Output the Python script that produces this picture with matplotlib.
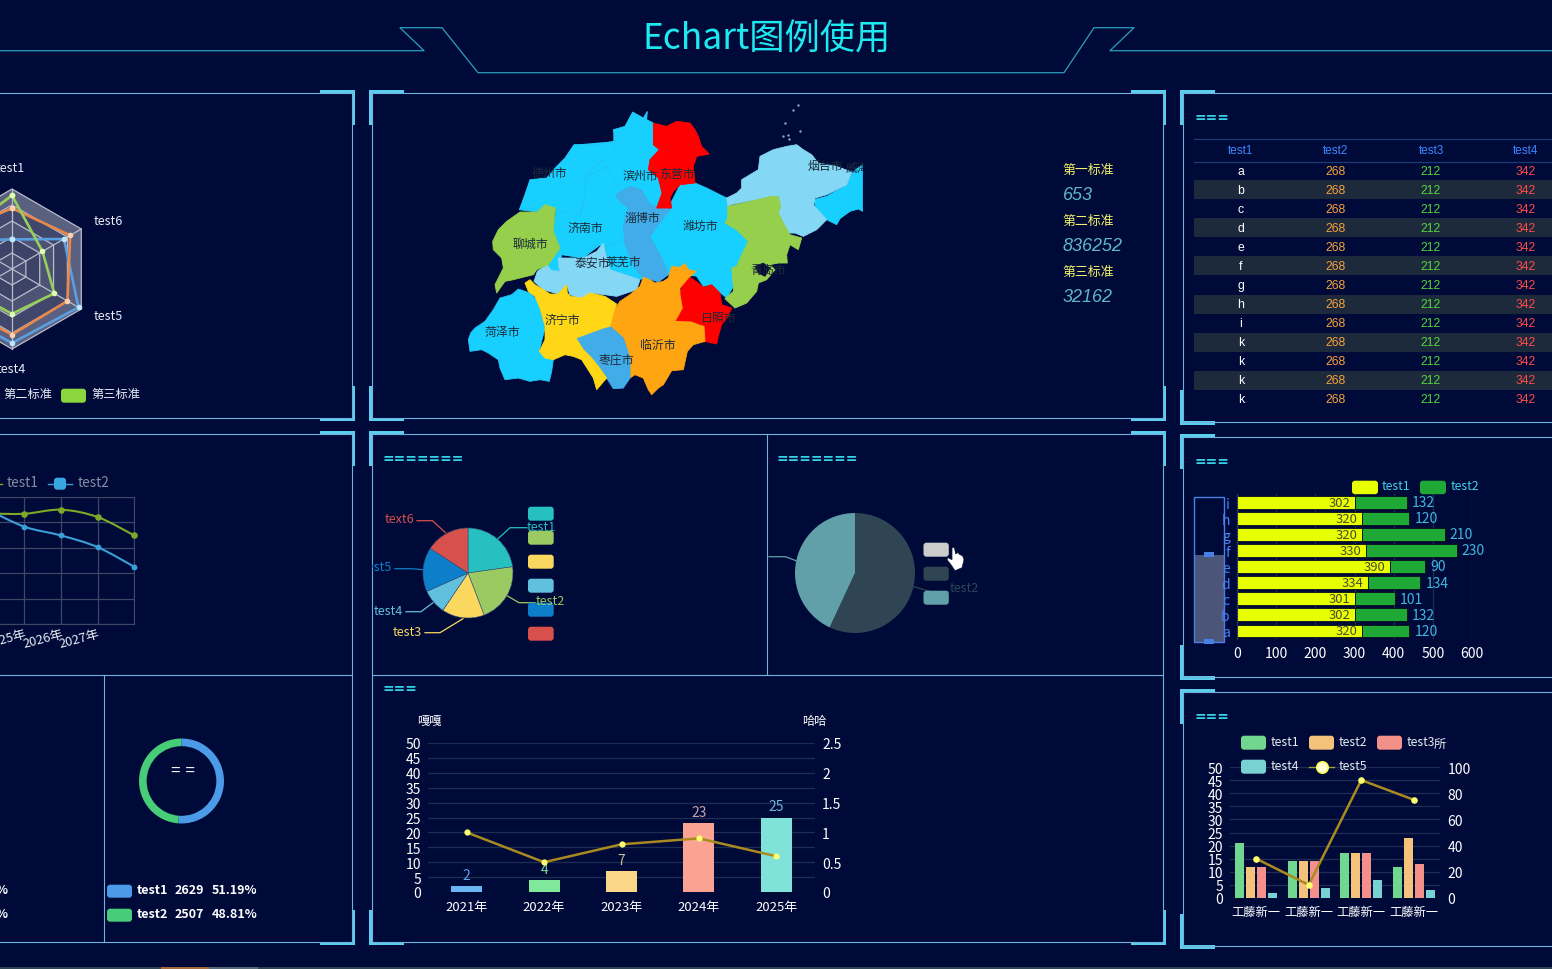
import numpy as np
import matplotlib
matplotlib.use('Agg')
import matplotlib.pyplot as plt
from matplotlib.patches import Rectangle, FancyBboxPatch, Polygon, PathPatch
from matplotlib.path import Path

plt.rcParams['font.family'] = ['Noto Sans CJK SC', 'DejaVu Sans']

W, H = 1552, 970
BG = '#000a38'
LINE = '#6fb2e2'
CORNER = '#5ccdec'
TITLE_C = '#35d3e8'
GRID = '#1e2d52'

# radar
radar_names = ['test1', 'test2', 'test3', 'test4', 'test5', 'test6']
radar_orange = [0.76, 0.88, 0.86, 0.82, 0.80, 0.84]
radar_blue = [0.37, 0.71, 0.96, 0.925, 0.96, 0.75]
radar_green = [0.92, 0.80, 0.58, 0.56, 0.61, 0.44]

# smooth lines
line_years = ['2024年', '2025年', '2026年', '2027年', '']
line_test1 = [87, 86.8, 90, 84.2, 69.7]
line_test2 = [90, 76.6, 69.7, 60.5, 45]

# donut
donut_names = ['test1', 'test2']
donut_values = [2629, 2507]

# map, outlines in map units
map_base = [(208, 345), (240, 255), (290, 250), (345, 190), (372, 150), (490, 140), (490, 105), (525, 95), (548, 52),
            (580, 70), (592, 50), (590, 75), (610, 85), (628, 165), (636, 295), (660, 345), (735, 265), (830, 310),
            (895, 440), (850, 575), (830, 610), (740, 545), (650, 540), (570, 555), (480, 525), (460, 445), (400, 490),
            (335, 480), (325, 530), (290, 510), (330, 460), (316, 340)]
map_regions = {
    '德州市': [(208, 345), (225, 300), (240, 255), (290, 250), (320, 215), (345, 190), (372, 150), (440, 150), (490, 140),
            (500, 150), (490, 170), (465, 190), (425, 225), (408, 250), (405, 300), (392, 345), (395, 370), (320, 350),
            (316, 340), (285, 330), (262, 352)],
    '滨州市': [(500, 150), (490, 105), (525, 95), (548, 52), (580, 70), (592, 50), (590, 75), (610, 85), (610, 150),
            (628, 165), (600, 195), (595, 225), (625, 250), (636, 295), (620, 340), (570, 300), (540, 275),
            (500, 295), (470, 215), (408, 250), (425, 225), (465, 190), (490, 170)],
    '济南市': [(408, 250), (470, 215), (510, 290), (497, 300), (510, 320), (535, 340), (520, 390), (525, 430),
            (470, 455), (440, 450), (400, 490), (335, 480), (325, 530), (300, 530), (290, 510), (330, 460),
            (310, 410), (318, 345), (392, 362), (405, 300)],
    '莱芜市': [(470, 455), (525, 430), (555, 520), (575, 545), (560, 555), (540, 545), (480, 525), (470, 490)],
    '潍坊市': [(735, 265), (770, 280), (800, 295), (830, 310), (833, 370), (822, 385), (860, 405), (895, 440), (875, 480),
            (860, 515), (845, 520), (850, 575), (830, 610), (810, 590), (785, 570), (760, 575), (740, 545),
            (710, 520), (695, 505), (655, 530), (635, 490), (600, 425), (625, 390), (660, 345), (665, 320),
            (690, 270)],
    '菏泽市': [(55, 735), (62, 715), (75, 700), (105, 680), (130, 645), (150, 610), (185, 600), (205, 583), (240, 595),
            (265, 620), (285, 700), (275, 740), (268, 770), (310, 795), (305, 830), (298, 860), (270, 855),
            (240, 860), (205, 850), (165, 855), (150, 820), (145, 795), (115, 775), (95, 765), (60, 770)],
    '威海市': [(1090, 315), (1130, 305), (1190, 270), (1207, 232), (1238, 210), (1238, 350), (1225, 343), (1200, 350),
            (1170, 372), (1160, 390), (1130, 375), (1100, 345)],
    '淄博市': [(497, 300), (540, 275), (575, 285), (600, 330), (660, 345), (625, 390), (600, 425), (635, 490),
            (655, 540), (625, 562), (575, 545), (555, 520), (525, 450), (520, 390), (535, 340), (510, 320)],
    '泰安市': [(252, 560), (262, 530), (290, 510), (305, 528), (328, 530), (325, 490), (400, 490), (440, 470), (460, 445),
            (470, 490), (480, 525), (540, 545), (570, 555), (560, 585), (500, 605), (465, 600), (420, 595),
            (400, 615), (360, 600), (350, 570), (325, 598), (280, 585)],
    '聊城市': [(128, 440), (145, 405), (170, 380), (210, 352), (262, 352), (285, 330), (316, 340), (310, 410), (330, 460),
            (295, 510), (260, 525), (250, 540), (190, 555), (165, 560), (140, 595), (135, 570), (160, 520), (155, 490),
            (130, 465)],
    '东营市': [(610, 85), (650, 95), (680, 80), (720, 85), (735, 105), (745, 125), (755, 155), (778, 178), (740, 185),
            (730, 215), (735, 265), (690, 270), (670, 290), (660, 310), (665, 340), (620, 340), (636, 295), (625, 250),
            (595, 225), (600, 195), (628, 165), (610, 150)],
    '烟台市': [(830, 310), (860, 295), (875, 280), (875, 255), (925, 225), (930, 185), (970, 165), (1010, 155), (1040, 150),
            (1060, 165), (1085, 180), (1105, 205), (1160, 215), (1205, 232), (1190, 270), (1130, 300), (1095, 310),
            (1090, 330), (1130, 375), (1100, 405), (1060, 425), (1035, 415), (1015, 415), (1000, 385), (985, 355),
            (992, 335), (985, 305), (965, 305), (935, 312), (833, 332)],
    '青岛市': [(833, 335), (880, 325), (935, 312), (965, 305), (985, 305), (992, 335), (985, 355), (1000, 385), (1020, 420),
            (1055, 430), (1045, 465), (1020, 450), (1010, 480), (1012, 505), (985, 505), (960, 510), (975, 525),
            (950, 555), (925, 565), (920, 590), (890, 625), (855, 640), (825, 612), (850, 590), (850, 575), (845, 520),
            (860, 515), (875, 480), (895, 440), (860, 405), (825, 385), (833, 370)],
    '日照市': [(690, 595), (700, 565), (720, 548), (745, 565), (760, 578), (785, 570), (810, 595), (815, 630), (845, 640),
            (835, 665), (815, 690), (805, 725), (800, 748), (765, 740), (762, 695), (725, 682), (672, 680), (697, 640)],
    '临沂市': [(480, 695), (490, 650), (510, 620), (540, 600), (570, 575), (580, 548), (600, 555), (615, 565), (640, 560),
            (655, 550), (665, 515), (690, 518), (705, 507), (715, 525), (738, 530), (715, 550), (690, 580), (690, 600),
            (697, 640), (675, 680), (725, 682), (745, 690), (762, 695), (765, 740), (730, 750), (712, 770), (700, 825),
            (665, 828), (640, 870), (625, 880), (605, 900), (595, 885), (580, 850), (555, 840), (540, 850), (540, 790),
            (520, 730)],
    '枣庄市': [(378, 730), (460, 700), (480, 695), (520, 730), (540, 790), (540, 850), (520, 880), (490, 882),
            (470, 850), (445, 815), (425, 790), (400, 765)],
    '济宁市': [(225, 565), (240, 555), (255, 570), (280, 585), (300, 598), (325, 598), (350, 570), (352, 595), (362, 605),
            (395, 610), (420, 595), (465, 605), (500, 628), (490, 655), (480, 695), (460, 700), (378, 730), (400, 765),
            (425, 790), (445, 815), (470, 850), (440, 885), (430, 850), (395, 795), (370, 785), (345, 780), (310, 795),
            (285, 790), (268, 770), (285, 735), (285, 695), (270, 640), (255, 605), (235, 590)],
}
map_colors = {'德州市': '#18d0ff', '滨州市': '#18d0ff', '济南市': '#18d0ff', '莱芜市': '#18d0ff', '潍坊市': '#18d0ff',
              '菏泽市': '#18d0ff', '威海市': '#18d0ff', '淄博市': '#42ace8', '泰安市': '#85d8f5', '聊城市': '#96cf4c',
              '东营市': '#ff0000', '烟台市': '#85d8f5', '青岛市': '#96cf4c', '日照市': '#ff0000', '临沂市': '#ffa511',
              '枣庄市': '#42ace8', '济宁市': '#ffd716'}
map_labels = {'德州市': (297, 232), '滨州市': (570, 243), '东营市': (680, 235), '济南市': (405, 397), '淄博市': (577, 368),
              '潍坊市': (750, 392), '聊城市': (240, 445), '泰安市': (428, 503), '莱芜市': (520, 500), '青岛市': (955, 525),
              '烟台市': (1125, 212), '威海市': (1240, 218), '济宁市': (338, 673), '菏泽市': (157, 710), '临沂市': (623, 748),
              '枣庄市': (498, 795), '日照市': (807, 668)}
map_bay = [(915, 515), (940, 505), (960, 520), (945, 545), (925, 535)]
map_islands_x = [1045, 1030, 1005, 1050, 1000, 1015, 1018]
map_islands_y = [32, 45, 85, 108, 125, 122, 132]
standard_names = ['第一标准', '第二标准', '第三标准']
standard_values = ['653', '836252', '32162']

# table
table_cols = ['test1', 'test2', 'test3', 'test4']
table_keys = ['a', 'b', 'c', 'd', 'e', 'f', 'g', 'h', 'i', 'k', 'k', 'k', 'k']
table_test2 = [268] * 13
table_test3 = [212] * 13
table_test4 = [342] * 13

# pies
pie1_names = ['test1', 'test2', 'test3', 'test4', 'test5', 'text6']
pie1_values = [82, 77, 55, 32, 57, 57]
pie1_colors = ['#26c0c0', '#9bca63', '#fad860', '#60c0dd', '#0d7fca', '#d7504b']
pie2_values = [205, 155]
pie2_colors = ['#2f4554', '#61a0a8']

# year bars
year_names = ['2021年', '2022年', '2023年', '2024年', '2025年']
year_bars = [2, 4, 7, 23, 25]
year_line = [1, 0.5, 0.8, 0.9, 0.6]
year_colors = ['#6cb5f5', '#80e89a', '#fad788', '#fba393', '#80e2d8']
year_label_colors = ['#5f9fe0', '#7fd79a', '#cbbd90', '#c9a0a8', '#6fb6d8']

# horizontal stack
stack_names = ['a', 'b', 'c', 'd', 'e', 'f', 'g', 'h', 'i']
stack_test1 = [320, 302, 301, 334, 390, 330, 320, 320, 302]
stack_test2 = [120, 132, 101, 134, 90, 230, 210, 120, 132]

# grouped bars
group_names = ['工藤新一', '工藤新一', '工藤新一', '工藤新一']
group_test1 = [21, 14, 17, 12]
group_test2 = [12, 14, 17, 23]
group_test3 = [12, 14, 17, 13]
group_test4 = [2, 4, 7, 3]
group_test5 = [30, 10, 90, 75]
group_colors = ['#71d68f', '#f4c27a', '#f4908a', '#78d2d2']

fig = plt.figure(figsize=(W / 100, H / 100), dpi=100, facecolor=BG)


def px_axes(x0, y0, x1, y1, z=1):
    ax = fig.add_axes([x0 / W, 1 - y1 / H, (x1 - x0) / W, (y1 - y0) / H], zorder=z)
    ax.patch.set_visible(False)
    return ax


def flat_canvas(z):
    ax = px_axes(0, 0, W, H, z)
    # canvas items sat a pixel high against the reference
    ax.set_xlim(0, W)
    ax.set_ylim(H - 0.7, -0.7)
    ax.axis('off')
    return ax


back = flat_canvas(0)
top = flat_canvas(5)


def frame(x0, y0, x1, y1):
    back.plot([x0, x1, x1, x0, x0], [y0, y0, y1, y1, y0], color=LINE, lw=0.8)


def corner(x, y, sx, sy):
    # x, y is the outer point of the bracket
    w, t = 35, 3.4
    back.add_patch(Rectangle((min(x, x + sx * w), min(y, y + sy * t)), w, t, color=CORNER, lw=0))
    back.add_patch(Rectangle((min(x, x + sx * t), min(y, y + sy * w)), t, w, color=CORNER, lw=0))


def swatch(x0, y0, x1, y1, color, canvas=None):
    canvas = canvas or top
    canvas.add_patch(FancyBboxPatch((x0 + 3, y0 + 3), x1 - x0 - 6, y1 - y0 - 6, boxstyle='round,pad=3',
                                    fc=color, ec='none'))


def smooth(xs, ys):
    # catmull-rom through the data points, as bezier segments
    pts = np.column_stack([xs, ys]).astype(float)
    verts = [pts[0]]
    codes = [Path.MOVETO]
    for i in range(len(pts) - 1):
        p0 = pts[max(i - 1, 0)]
        p1 = pts[i]
        p2 = pts[i + 1]
        p3 = pts[min(i + 2, len(pts) - 1)]
        verts += [p1 + (p2 - p0) / 6, p2 - (p3 - p1) / 6, p2]
        codes += [Path.CURVE4] * 3
    return Path(verts, codes)


def baseline_ticks(ax):
    for label in ax.get_yticklabels():
        label.set_verticalalignment('center_baseline')


# header
back.plot([-5, 424, 400, 442, 478, 1064, 1094, 1134, 1110, 1560],
          [51, 51, 28, 28, 73, 73, 28, 28, 51, 51], color='#2a9fc0', lw=0.9)
back.text(767, 39, 'Echart图例使用', color='#1ee8f0', fontsize=25.4, ha='center', va='center')

# bottom strip
back.add_patch(Rectangle((0, 967), W, 3, color='#2d4552', lw=0))
back.add_patch(Rectangle((161, 967), 48, 3, color='#a5683a', lw=0))
back.add_patch(Rectangle((209, 967), 49, 3, color='#55687a', lw=0))

# frames
frame(-10, 93, 352, 418)
frame(-10, 434, 352, 942)
frame(372, 93, 1163, 418)
frame(372, 434, 1163, 942)
frame(1183, 93, 1565, 422)
frame(1183, 437, 1565, 677)
frame(1183, 692, 1565, 946)
back.plot([-10, 352], [675, 675], color=LINE, lw=0.8)
back.plot([103.5, 103.5], [675, 942], color=LINE, lw=0.8)
back.plot([372, 1163], [675, 675], color=LINE, lw=0.8)
back.plot([767, 767], [434, 675], color=LINE, lw=0.8)

for y0, y1 in [(90, 421.5), (431, 945.5)]:
    corner(355, y0, -1, 1)
    corner(355, y1, -1, -1)
    corner(369, y0, 1, 1)
    corner(369, y1, 1, -1)
    corner(1166, y0, -1, 1)
    corner(1166, y1, -1, -1)
for y0, y1 in [(90, 425), (434, 680), (689, 949)]:
    corner(1180, y0, 1, 1)
    corner(1180, y1, 1, -1)

# section titles
for x, y, s in [(1194, 117, '==='), (383, 458, '======='), (777, 458, '======='), (383, 688, '==='),
                (1194, 461, '==='), (1194, 716, '===')]:
    back.text(x, y, s, color=TITLE_C, fontsize=9.9, ha='left', va='center', family='DejaVu Sans',
              fontweight='bold')

# radar
ax = px_axes(-88, 170, 112, 370)
ax.set_xlim(-1.25, 1.25)
ax.set_ylim(-1.25, 1.25)
ax.axis('off')
ang = np.deg2rad([0, 300, 240, 180, 120, 60])
band_colors = ['#5a6080', '#40476a', '#4c5375', '#3c4367', '#464d70']
for k, c in zip([1.0, 0.8, 0.6, 0.4, 0.2], band_colors):
    ax.add_patch(Polygon(np.column_stack([k * np.sin(ang), k * np.cos(ang)]), fc=c, ec='#b8bccb', lw=0.9))
for a in ang:
    ax.plot([0, np.sin(a)], [0, np.cos(a)], color='#b8bccb', lw=0.9)
for vals, c, mc in [(radar_blue, '#5a9fe0', '#bfe6ff'), (radar_orange, '#e8884a', '#ffd0b0'),
                    (radar_green, '#96d05a', '#e0ffb0')]:
    v = np.array(vals + vals[:1])
    a = np.append(ang, ang[0])
    ax.plot(v * np.sin(a), v * np.cos(a), color=c, lw=1.9)
    ax.scatter(v * np.sin(a), v * np.cos(a), s=9, color=mc, zorder=3)
for name, x, y, ha in [('test1', 25, 168, 'right'), ('test6', 94, 221, 'left'), ('test5', 94, 316, 'left'),
                       ('test4', 26, 369, 'right')]:
    back.text(x, y, name, color='#e8ecf5', fontsize=9, ha=ha, va='center')
back.text(3, 394, '第二标准', color='#e8ecf5', fontsize=8.8, va='center')
swatch(61, 389, 86, 403, '#8ad63c')
back.text(91, 394, '第三标准', color='#e8ecf5', fontsize=8.8, va='center')

# smooth line chart
ax = px_axes(-12.2, 498, 134.3, 625)
ax.set_xlim(0, 4)
ax.set_ylim(0, 100)
ax.set_xticks(range(5))
ax.set_yticks(range(0, 101, 20))
ax.grid(color='#3d4866', lw=0.9)
ax.set_axisbelow(True)
for s in ax.spines.values():
    s.set_color('#3d4866')
ax.tick_params(length=0, labelleft=False, pad=2)
ax.set_xticklabels(line_years, rotation=15, ha='right', va='top', rotation_mode='anchor',
                   color='#e8ecf5', fontsize=9.2)
for vals, c, ms in [(line_test1, '#7fa828', 14), (line_test2, '#3a9fd8', 10)]:
    ax.add_patch(PathPatch(smooth(range(5), vals), fc='none', ec=c, lw=1.5, clip_on=False))
    ax.scatter(range(5), vals, s=ms, color=c, zorder=3, clip_on=False)
back.plot([-2, 2], [484, 484], color='#7fa828', lw=1)
back.text(7, 482, 'test1', color='#878da3', fontsize=9.8, va='center')
back.plot([48, 72], [484, 484], color='#3a9fd8', lw=1)
swatch(54, 478, 66, 490, '#3aa6e0')
back.text(78, 482, 'test2', color='#878da3', fontsize=9.8, va='center')

# donut
ax = px_axes(139, 739.5, 224, 824.5)
ax.pie(donut_values, colors=['#4c9be8', '#47cc78'], startangle=90, counterclock=False, radius=1,
       wedgeprops={'width': 0.18, 'lw': 0})
ax.set_xlim(-1, 1)
ax.set_ylim(-1, 1)
top.text(183.5, 769.5, '= =', color='white', fontsize=12, ha='center', va='center', family='Liberation Sans')
for name, val, y, c in zip(donut_names, donut_values, [891, 915], ['#4c9be8', '#47cc78']):
    swatch(107, y - 6, 132, y + 7, c)
    pct = val / sum(donut_values) * 100
    top.text(137, y - 1, name, color='white', fontsize=9, fontweight='bold', va='center')
    top.text(175, y - 1, str(val), color='white', fontsize=9, fontweight='bold', va='center')
    top.text(212, y - 1, '%.2f%%' % pct, color='white', fontsize=9, fontweight='bold', va='center')
    top.text(8, y - 1, '%', color='white', fontsize=9, fontweight='bold', va='center', ha='right')

# map
ax = px_axes(450, 95.7, 862.67, 405.7)
ax.set_xlim(0, 1238)
ax.set_ylim(930, 0)
ax.axis('off')
ax.add_patch(Polygon(map_base, fc='#18d0ff', ec='none'))
for name, pts in map_regions.items():
    c = map_colors[name]
    edge = '#22c4f2' if c == '#18d0ff' else c
    ax.add_patch(Polygon(pts, fc=c, ec=edge, lw=0.6))
ax.add_patch(Polygon(map_bay, fc=BG, ec=BG, lw=0.5))
ax.scatter(map_islands_x, map_islands_y, s=3, color='#8aa8c8', lw=0)
for name, (x, y) in map_labels.items():
    ax.text(x, y, name, color='#1d2b3a', fontsize=8.6, ha='center', va='center', clip_on=True)
for name, val, y in zip(standard_names, standard_values, [170, 221, 272]):
    back.text(1062, y, name, color='#f3f06a', fontsize=9.3, va='center')
    back.text(1063, y + 25, val, color='#5fb7c5', fontsize=13, va='center', style='italic',
              family='Liberation Sans')

# table
back.plot([1194, 1552], [139, 139], color='#1c3a78', lw=0.9)
back.plot([1194, 1552], [162, 162], color='#1c3a78', lw=0.9)
col_x = [1241, 1336, 1431, 1526]
for x, name in zip(col_x, table_cols):
    back.text(x, 150, name, color='#3f86ff', fontsize=8.4, ha='center', va='center', family='Liberation Sans')
for i, key in enumerate(table_keys):
    y = 171 + i * 19.05
    if i % 2 == 1:
        back.add_patch(Rectangle((1194, y - 9.5), 360, 19, color='#1c2a3c', lw=0))
    row = [key, table_test2[i], table_test3[i], table_test4[i]]
    for x, v, c in zip(col_x, row, ['white', '#f7a13c', '#55d33b', '#ff4a4a']):
        back.text(x, y, str(v), color=c, fontsize=8.8, ha='center', va='center', family='Liberation Sans')

# pie 1
ax = px_axes(423, 529, 513, 619)
ax.pie(pie1_values, colors=pie1_colors, startangle=90, counterclock=False, radius=1,
       wedgeprops={'lw': 0.4, 'ec': '#33507a'})
ax.set_xlim(-1, 1)
ax.set_ylim(-1, 1)
leaders = [([498, 510, 527], [539, 528, 528]), ([507, 519, 535], [596, 603, 603]), ([463, 440, 425], [619, 633, 633]),
           ([433, 421, 406], [603, 612, 612]), ([423, 411, 395], [570, 569, 569]), ([445.5, 432.5, 417], [533, 521, 521])]
for (lx, ly), c in zip(leaders, pie1_colors):
    back.plot(lx, ly, color=c, lw=0.9)
label_pos = [(527, 527, 'left'), (536, 601, 'left'), (422, 632, 'right'), (403, 611, 'right'), (392, 567, 'right'),
             (414, 519, 'right')]
clip = Rectangle((372, 434), 395, 241, transform=back.transData)
for name, (x, y, ha), c, sy in zip(pie1_names, label_pos, pie1_colors, [507, 531, 555, 579, 603, 627]):
    swatch(528, sy, 553.7, sy + 14, c)
    t = top.text(x, y, name, color=c, fontsize=9, ha=ha, va='center')
    t.set_clip_path(clip)
    t.set_clip_on(True)

# pie 2
ax = px_axes(795, 514, 915, 634)
ax.pie(pie2_values, colors=pie2_colors, startangle=90, counterclock=False, radius=1, wedgeprops={'lw': 0})
ax.set_xlim(-1, 1)
ax.set_ylim(-1, 1)
back.plot([769, 785.5, 796], [557, 557, 561], color=pie2_colors[1], lw=0.9)
back.plot([914, 931, 948], [587, 592, 592], color=pie2_colors[0], lw=0.9)
back.text(950, 588, 'test2', color=pie2_colors[0], fontsize=9, va='center')
for sy, c in zip([543, 567, 591], ['#cccccc', pie2_colors[0], pie2_colors[1]]):
    swatch(923.5, sy, 948.8, sy + 14, c)
hand = [(952, 548), (954.5, 548), (955.5, 554), (958, 553), (960, 555), (962.5, 556), (964, 560), (962, 568),
        (955, 571), (951, 565), (947, 560), (948, 558), (952, 560)]
top.add_patch(Polygon(hand, fc='white', ec='#151a30', lw=0.5))

# year combo
ax = px_axes(428, 744, 815, 893)
ax.set_xlim(-0.5, 4.5)
ax.set_ylim(0, 50)
ax.set_yticks(range(0, 51, 5))
ax.set_xticks(range(5))
ax.set_xticklabels(year_names)
ax.grid(axis='y', color=GRID, lw=0.9)
ax.set_axisbelow(True)
ax.bar(range(5), year_bars, width=0.4, color=year_colors)
for i, v in enumerate(year_bars):
    ax.annotate(str(v), (i, v), xytext=(0, 3), textcoords='offset points', color=year_label_colors[i],
                fontsize=10, ha='center', va='bottom')
ax.tick_params(length=0, colors='white', labelsize=10, pad=5)
ax.tick_params(axis='x', labelsize=9.4, pad=6)
baseline_ticks(ax)
for s in ax.spines.values():
    s.set_visible(False)
ax2 = ax.twinx()
ax2.set_ylim(0, 2.5)
ax2.set_yticks([0, 0.5, 1, 1.5, 2, 2.5])
ax2.set_yticklabels(['0', '0.5', '1', '1.5', '2', '2.5'])
ax2.tick_params(length=0, colors='white', labelsize=10, pad=5)
baseline_ticks(ax2)
for s in ax2.spines.values():
    s.set_visible(False)
ax2.plot(range(5), year_line, color='#a88a20', lw=1.8)
ax2.scatter(range(5), year_line, s=12, color='#ffff70', zorder=3)
back.text(429, 721, '嘎嘎', color='white', fontsize=8.8, ha='center', va='center')
back.text(814, 721, '哈哈', color='white', fontsize=8.8, ha='center', va='center')

# stacked bars
top_slider = back
top_slider.add_patch(Rectangle((1194, 555), 29.5, 87, fc='#4a5578', ec='none'))
top_slider.add_patch(Rectangle((1194, 497), 29.5, 145, fc='none', ec='#4a7fe8', lw=1))
top_slider.add_patch(Rectangle((1204, 552.5), 10, 5, fc='#4a7fe8', ec='none'))
top_slider.add_patch(Rectangle((1204, 639.5), 10, 5, fc='#4a7fe8', ec='none'))
ax = px_axes(1236.7, 495, 1472.3, 640)
ax.set_xlim(0, 600)
ax.set_ylim(-0.5, 8.5)
ax.set_xticks(range(0, 601, 100))
ax.set_yticks(range(9))
ax.set_yticklabels(stack_names)
ax.grid(axis='x', color=GRID, lw=0.9)
ax.set_axisbelow(True)
ax.barh(range(9), stack_test1, height=0.8, color='#e8ff00', ec='#061018', lw=0.6)
ax.barh(range(9), stack_test2, left=stack_test1, height=0.8, color='#1fa836', ec='#061018', lw=0.6)
for i, (a, b) in enumerate(zip(stack_test1, stack_test2)):
    ax.text(a - 12, i, str(a), color='#4a4a30', fontsize=9.4, ha='right', va='center')
    ax.text(a + b + 13, i, str(b), color='#3fb6e0', fontsize=10, ha='left', va='center')
ax.tick_params(length=0, labelsize=10, pad=5)
ax.tick_params(axis='x', colors='white', pad=5)
ax.tick_params(axis='y', colors='#4a80f0')
for s in ax.spines.values():
    s.set_visible(False)
ax.spines['left'].set_visible(True)
ax.spines['left'].set_color('#2a3a60')
swatch(1352, 481, 1378, 494.5, '#e8ff00')
swatch(1420, 481, 1446, 494.5, '#1fa836')
top.text(1382, 486, 'test1', color='#3fd0e8', fontsize=8.8, va='center')
top.text(1451, 486, 'test2', color='#3fd0e8', fontsize=8.8, va='center')

# grouped bars
ax = px_axes(1230, 768, 1440, 899)
ax.set_xlim(-0.5, 3.5)
ax.set_ylim(0, 50)
ax.set_yticks(range(0, 51, 5))
ax.set_xticks(range(4))
ax.set_xticklabels(group_names)
ax.grid(axis='y', color=GRID, lw=0.9)
ax.set_axisbelow(True)
xs = np.arange(4)
for k, (vals, c) in enumerate(zip([group_test1, group_test2, group_test3, group_test4], group_colors)):
    ax.bar(xs + (k - 1.5) * 0.21, vals, width=0.165, color=c)
ax.tick_params(length=0, colors='white', labelsize=10, pad=5)
ax.tick_params(axis='x', labelsize=8.8, pad=5)
baseline_ticks(ax)
for s in ax.spines.values():
    s.set_visible(False)
ax2 = ax.twinx()
ax2.set_ylim(0, 100)
ax2.set_yticks(range(0, 101, 20))
ax2.tick_params(length=0, colors='white', labelsize=10, pad=5.5)
baseline_ticks(ax2)
for s in ax2.spines.values():
    s.set_visible(False)
ax2.plot(xs, group_test5, color='#a88a20', lw=1.8)
ax2.scatter(xs, group_test5, s=14, color='#ffff70', zorder=3)
for x, y, name, c in [(1241, 743, 'test1', group_colors[0]), (1309, 743, 'test2', group_colors[1]),
                      (1377, 743, 'test3', group_colors[2]), (1241, 767, 'test4', group_colors[3])]:
    swatch(x, y - 7, x + 25, y + 7, c)
    top.text(x + 30, y - 1, name, color='#e8ecf5', fontsize=8.8, va='center')
top.plot([1309, 1334], [767, 767], color='#a0a040', lw=1)
top.scatter([1322], [767], s=70, color='#ffffd0', ec='#ffff40', lw=1, zorder=3)
top.text(1339, 766, 'test5', color='#e8ecf5', fontsize=8.8, va='center')
top.text(1440, 745, '所', color='#e8ecf5', fontsize=8.8, ha='center', va='center')

fig.savefig('out.png', dpi=100, facecolor=BG)
